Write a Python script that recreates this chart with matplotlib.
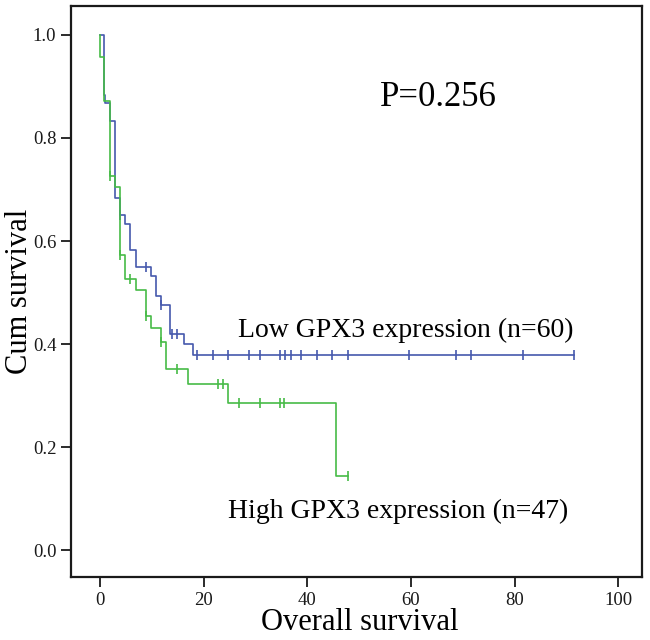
import matplotlib
matplotlib.use("Agg")
from matplotlib import pyplot as plt

plt.rcParams['font.family'] = ['Liberation Serif', 'DejaVu Serif']

# Low GPX3 expression (n=60): event times and survival after each step
low_times = [0, 0.8, 1.0, 1.9, 2.9, 3.9, 4.8, 5.9, 6.9, 9.8, 10.8, 11.8, 13.6, 16.2, 17.9]
low_surv = [1.0, 0.883, 0.867, 0.833, 0.683, 0.650, 0.633, 0.583, 0.550, 0.532, 0.494,
            0.476, 0.419, 0.400, 0.379]
low_end = 91.5
low_censor = [3.9, 8.9, 11.8, 13.9, 14.8, 18.8, 21.8, 24.8, 28.8, 30.8, 34.8, 35.8, 36.8,
              38.8, 41.8, 44.8, 47.8, 59.6, 68.7, 71.6, 81.6, 91.5]

# High GPX3 expression (n=47)
high_times = [0, 0.1, 0.8, 1.9, 2.9, 3.9, 4.8, 6.9, 8.8, 9.8, 11.8, 12.8, 16.9, 24.8, 45.6]
high_surv = [1.0, 0.957, 0.872, 0.727, 0.704, 0.572, 0.527, 0.504, 0.455, 0.431, 0.405,
             0.351, 0.322, 0.286, 0.144]
high_end = 47.8
high_censor = [1.9, 3.9, 5.8, 8.8, 11.8, 14.8, 22.8, 23.7, 26.8, 30.8, 34.8, 35.6, 47.8]

x_ticks = [0, 20, 40, 60, 80, 100]
y_ticks = [0.0, 0.2, 0.4, 0.6, 0.8, 1.0]

blue = '#4659ad'
green = '#47bb47'


def surv_at(times, surv, t):
    s = surv[0]
    for ti, si in zip(times, surv):
        if ti <= t:
            s = si
    return s


def draw_km(ax, times, surv, end, censor, color):
    xs = list(times) + [end]
    ys = list(surv) + [surv[-1]]
    ax.step(xs, ys, where='post', color=color, lw=1.2)
    cy = [surv_at(times, surv, t) for t in censor]
    ax.plot(censor, cy, '|', color=color, markersize=7, mew=1.2)


fig = plt.figure(figsize=(6.5, 6.4), dpi=100)
ax = fig.add_axes([0.109, 0.0984, 0.879, 0.8922])

draw_km(ax, low_times, low_surv, low_end, low_censor, blue)
draw_km(ax, high_times, high_surv, high_end, high_censor, green)

ax.set_xlim(-5.6, 104.6)
ax.set_ylim(-0.052, 1.056)
ax.set_xticks(x_ticks)
ax.set_yticks(y_ticks)
ax.set_xticklabels([str(v) for v in x_ticks])
ax.set_yticklabels(['%.1f' % v for v in y_ticks])
ax.tick_params(direction='out', length=7, width=1.3, labelsize=13.5, colors='#1a1a1a')
for sp in ax.spines.values():
    sp.set_linewidth(1.6)
    sp.set_color('#1a1a1a')

# axis titles placed by hand so they stay inside the figure
fig.text(0.554, 0.015, 'Overall survival', fontsize=22, ha='center', va='baseline')
fig.text(0.042, 0.545, 'Cum survival', fontsize=22, rotation=90,
         rotation_mode='anchor', ha='center', va='baseline')

ax.text(65.3, 0.862, 'P=0.256', fontsize=25, ha='center', va='baseline')
ax.text(26.6, 0.414, 'Low GPX3 expression (n=60)', fontsize=20, ha='left', va='baseline')
ax.text(24.7, 0.062, 'High GPX3 expression (n=47)', fontsize=20, ha='left', va='baseline')

fig.savefig('out.png', dpi=100)
